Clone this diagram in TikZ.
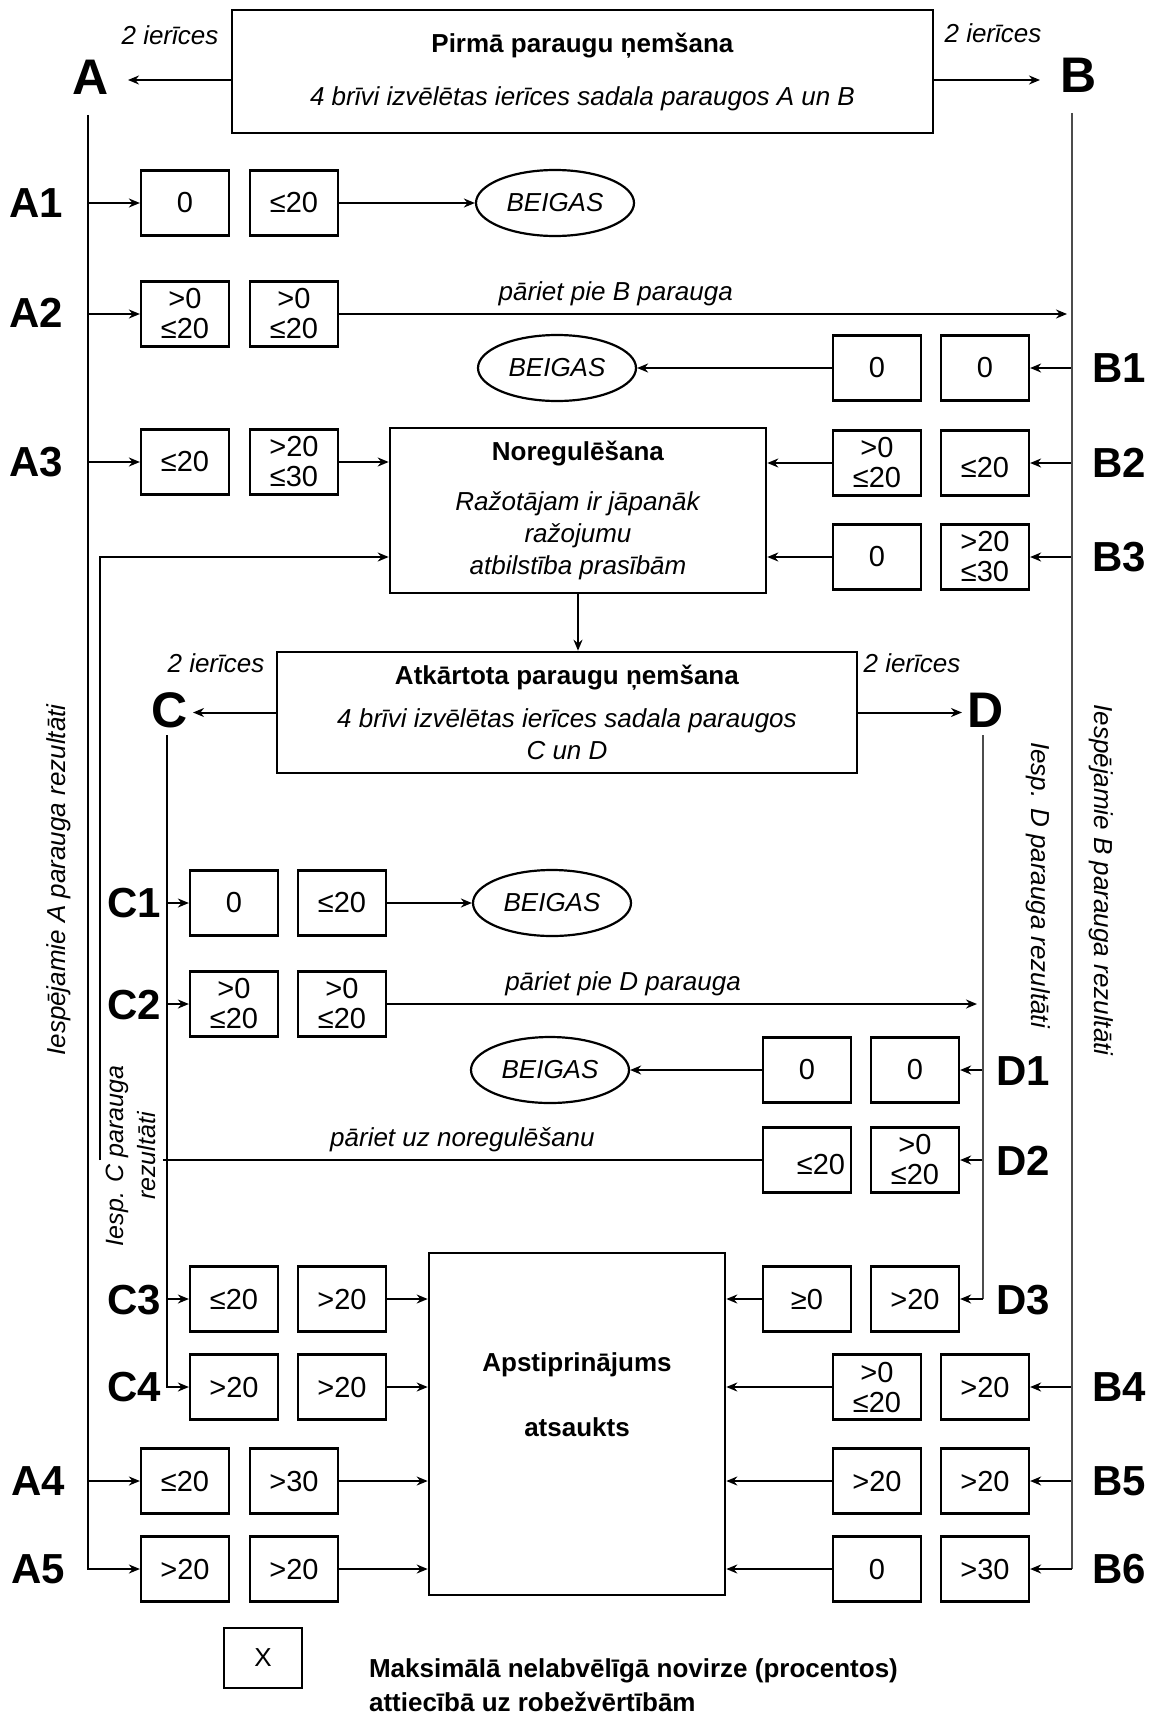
\documentclass[tikz,border=0pt]{standalone}
\usepackage{fontspec}
\setmainfont{Liberation Sans}
\usepackage{tikz}
\usetikzlibrary{shapes.geometric, arrows.meta, positioning}
\tikzstyle{val} = [rectangle, draw=black, line width=1.1pt,
minimum width=44pt, minimum height=32.5pt, inner sep=0pt,
align=center, font=\fontsize{14.5}{15}\selectfont]
\tikzstyle{arrow} = [line width=1pt, -{Stealth[length=5.5pt, width=4.5pt]}]

\begin{document}
\begin{tikzpicture}[
        x=0.5pt, y=-0.5pt,
        stage/.style={draw=black, line width=1.3pt, inner sep=0pt, align=center, font=\fontsize{13}{16}\selectfont},
        ending/.style={ellipse, draw=black, line width=1.1pt, minimum width=79pt, minimum height=33pt, inner sep=0pt, font=\fontsize{13}{15}\selectfont\itshape},
        row/.style={font=\fontsize{21}{24}\selectfont\bfseries},
        sample/.style={font=\fontsize{25}{28}\selectfont\bfseries},
        note/.style={font=\fontsize{13}{16}\selectfont\itshape},
        rail/.style={line width=1pt},
        thinrail/.style={line width=0.6pt, black!70},
    ]
        \useasboundingbox (0,0) rectangle (1163,1723);

        \node[stage, minimum width=350.5pt, minimum height=61.5pt] (first) at (582.5,71.5) {\textbf{Pirmā paraugu ņemšana}\\[10.5pt]\textit{4 brīvi izvēlētas ierīces sadala paraugos A un B}};
        \node[note] (na) at (170,35) {2 ierīces};
        \node[note] (nb) at (993,33) {2 ierīces};
        \node[sample] (A) at (91,77) {A};
        \node[sample] (B) at (1079,75) {B};
        \coordinate (atip) at (128,80);
        \coordinate (btip) at (1040,80);
        \draw[arrow] (first.west |- atip) -- (atip);
        \draw[arrow] (first.east |- btip) -- (btip);
        \coordinate (atop) at (88,115);
        \coordinate (btop) at (1072,113);

        \node[row] (lA1) at (36,203) {A1};
        \node[val] (a1l) at (185,203) {0};
        \node[val] (a1r) at (294,203) {≤20};
        \node[ending] (e1) at (555,203) {BEIGAS};
        \draw[arrow] (atop |- a1l) -- (a1l.west);
        \draw[arrow] (a1r) -- (e1);

        \node[row] (lA2) at (36,313) {A2};
        \node[val] (a2l) at (185,314) {>0\\≤20};
        \node[val] (a2r) at (294,314) {>0\\≤20};
        \coordinate (a2end) at (1067,314);
        \draw[arrow] (atop |- a2l) -- (a2l.west);
        \draw[arrow] (a2r.east) -- node[note, above, pos=0.38] {pāriet pie B parauga} (a2end);

        \node[row] (lB1) at (1119,368) {B1};
        \node[val] (b1l) at (877,368) {0};
        \node[val] (b1r) at (985,368) {0};
        \node[ending] (e2) at (557,368) {BEIGAS};
        \draw[arrow] (btop |- b1r) -- (b1r.east);
        \draw[arrow] (b1l) -- (e2);

        \node[stage, minimum width=188pt, minimum height=82.5pt] (noreg) at (578,510.5) {\textbf{Noregulēšana}\\[9pt]\textit{Ražotājam ir jāpanāk}\\\textit{ražojumu}\\\textit{atbilstība prasībām}};

        \node[row] (lA3) at (36,462) {A3};
        \node[val] (a3l) at (185,462) {≤20};
        \node[val] (a3r) at (294,462) {>20\\≤30};
        \draw[arrow] (atop |- a3l) -- (a3l.west);
        \draw[arrow] (a3r.east) -- (a3r.east -| noreg.west);

        \node[row] (lB2) at (1119,463) {B2};
        \node[val] (b2l) at (877,463) {>0\\≤20};
        \node[val] (b2r) at (985,463) {\mbox{}\\≤20};
        \draw[arrow] (btop |- b2r) -- (b2r.east);
        \draw[arrow] (b2l.west) -- (b2l.west -| noreg.east);

        \node[row] (lB3) at (1119,557) {B3};
        \node[val] (b3l) at (877,557) {0};
        \node[val] (b3r) at (985,557) {>20\\≤30};
        \draw[arrow] (btop |- b3r) -- (b3r.east);
        \draw[arrow] (b3l.west) -- (b3l.west -| noreg.east);

        \node[stage, minimum width=290pt, minimum height=60.5pt] (again) at (567,712.5) {\textbf{Atkārtota paraugu ņemšana}\\[5.5pt]\textit{4 brīvi izvēlētas ierīces sadala paraugos}\\\textit{C un D}};
        \draw[arrow] (noreg.south) -- (noreg.south |- again.north);
        \node[note] (nc) at (216,663) {2 ierīces};
        \node[note] (nd) at (912,663) {2 ierīces};
        \node[sample] (C) at (170,710) {C};
        \node[sample] (D) at (986,710) {D};
        \coordinate (ctip) at (193,712.5);
        \coordinate (dtip) at (962,712.5);
        \draw[arrow] (again.west) -- (ctip);
        \draw[arrow] (again.east) -- (dtip);
        \coordinate (ctop) at (167,735);
        \coordinate (dtop) at (983,735);

        \node[row] (lC1) at (134,903) {C1};
        \node[val] (c1l) at (234,903) {0};
        \node[val] (c1r) at (342,903) {≤20};
        \node[ending] (e3) at (552,903) {BEIGAS};
        \draw[arrow] (ctop |- c1l) -- (c1l.west);
        \draw[arrow] (c1r) -- (e3);

        \node[row] (lC2) at (134,1005) {C2};
        \node[val] (c2l) at (234,1004) {>0\\≤20};
        \node[val] (c2r) at (342,1004) {>0\\≤20};
        \coordinate (c2end) at (977,1004);
        \draw[arrow] (ctop |- c2l) -- (c2l.west);
        \draw[arrow] (c2r.east) -- node[note, above, pos=0.4] {pāriet pie D parauga} (c2end);

        \node[row] (lD1) at (1023,1071) {D1};
        \node[val] (d1l) at (807,1070) {0};
        \node[val] (d1r) at (915,1070) {0};
        \node[ending] (e4) at (550,1070) {BEIGAS};
        \draw[arrow] (dtop |- d1r) -- (d1r.east);
        \draw[arrow] (d1l) -- (e4);

        \node[row] (lD2) at (1023,1161) {D2};
        \node[val, align=right, text width=38pt] (d2l) at (807,1160) {\mbox{}\\≤20};
        \node[val] (d2r) at (915,1160) {>0\\≤20};
        \coordinate (cgapr) at (163,1160);
        \coordinate (cgapl) at (100,1160);
        \draw[arrow] (dtop |- d2r) -- (d2r.east);
        \draw[rail] (d2l.west) -- node[note, above] {pāriet uz noregulēšanu} (cgapr);
        \draw[arrow] (cgapl) |- (b3l.west -| noreg.west);

        \node[stage, minimum width=148pt, minimum height=171pt] (apst) at (577,1424) {};
        \node[font=\fontsize{13}{32.5}\selectfont\bfseries, align=center] (apsttext) at (577,1395) {Apstiprinājums\\atsaukts};

        \node[row] (lC3) at (134,1300) {C3};
        \node[val] (c3l) at (234,1299) {≤20};
        \node[val] (c3r) at (342,1299) {>20};
        \draw[arrow] (ctop |- c3l) -- (c3l.west);
        \draw[arrow] (c3r.east) -- (c3r.east -| apst.west);

        \node[row] (lD3) at (1023,1300) {D3};
        \node[val] (d3l) at (807,1299) {≥0};
        \node[val] (d3r) at (915,1299) {>20};
        \draw[thinrail] (dtop) -- (dtop |- d3r);
        \draw[arrow] (dtop |- d3r) -- (d3r.east);
        \draw[arrow] (d3l.west) -- (d3l.west -| apst.east);

        \node[row] (lC4) at (134,1387) {C4};
        \node[val] (c4l) at (234,1387) {>20};
        \node[val] (c4r) at (342,1387) {>20};
        \draw[arrow] (ctop) |- (c4l.west);
        \draw[arrow] (c4r.east) -- (c4r.east -| apst.west);

        \node[row] (lB4) at (1119,1387) {B4};
        \node[val] (b4l) at (877,1387) {>0\\≤20};
        \node[val] (b4r) at (985,1387) {>20};
        \draw[arrow] (btop |- b4r) -- (b4r.east);
        \draw[arrow] (b4l.west) -- (b4l.west -| apst.east);

        \node[row] (lA4) at (38,1481) {A4};
        \node[val] (a4l) at (185,1481) {≤20};
        \node[val] (a4r) at (294,1481) {>30};
        \draw[arrow] (atop |- a4l) -- (a4l.west);
        \draw[arrow] (a4r.east) -- (a4r.east -| apst.west);

        \node[row] (lB5) at (1119,1481) {B5};
        \node[val] (b5l) at (877,1481) {>20};
        \node[val] (b5r) at (985,1481) {>20};
        \draw[arrow] (btop |- b5r) -- (b5r.east);
        \draw[arrow] (b5l.west) -- (b5l.west -| apst.east);

        \node[row] (lA5) at (38,1569) {A5};
        \node[val] (a5l) at (185,1569) {>20};
        \node[val] (a5r) at (294,1569) {>20};
        \draw[arrow] (atop) |- (a5l.west);
        \draw[arrow] (a5r.east) -- (a5r.east -| apst.west);

        \node[row] (lB6) at (1119,1569) {B6};
        \node[val] (b6l) at (877,1569) {0};
        \node[val] (b6r) at (985,1569) {>30};
        \draw[thinrail] (btop) -- (btop |- b6r);
        \draw[arrow] (btop |- b6r) -- (b6r.east);
        \draw[arrow] (b6l.west) -- (b6l.west -| apst.east);

        \node[note, rotate=90] (aresults) at (59,880) {Iespējamie A parauga rezultāti};
        \node[note, rotate=-90] (bresults) at (1101,880) {Iespējamie B parauga rezultāti};
        \node[note, rotate=-90] (dresults) at (1038,885) {Iesp. D parauga rezultāti};
        \node[note, rotate=90, align=center, font=\fontsize{12.5}{16}\selectfont\itshape] (cresults) at (131,1156) {Iesp. C parauga\\rezultāti};

        \node[val, minimum width=39pt, minimum height=30pt, font=\fontsize{13}{15}\selectfont] (key) at (263,1658) {X};
        \node[font=\fontsize{13}{17}\selectfont\bfseries, align=left, anchor=west] (keytext) at (362,1685) {Maksimālā nelabvēlīgā novirze (procentos)\\attiecībā uz robežvērtībām};
    \end{tikzpicture}
\end{document}
